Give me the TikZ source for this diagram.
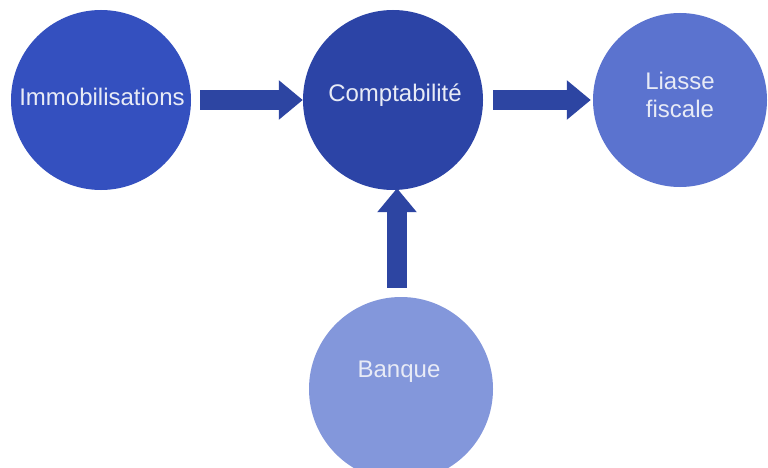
\documentclass[tikz,border=0pt]{standalone}
\usepackage{fontspec}
\setmainfont{Liberation Sans}
\usetikzlibrary{arrows.meta}
\definecolor{cImmo}{HTML}{3450BF}
\definecolor{cCompta}{HTML}{2C44A6}
\definecolor{cLiasse}{HTML}{5B73CF}
\definecolor{cBanque}{HTML}{8397DB}
\definecolor{cArrow}{HTML}{2D45A2}
\definecolor{cText}{HTML}{E8EBF6}
\tikzset{
  bubble/.style={circle, inner sep=0pt, draw=none},
  lbl/.style={text=cText, font=\fontsize{24}{28}\selectfont, inner sep=0pt, align=center},
  blockarrow/.style={draw=cArrow, line width=20pt, -{Triangle[length=24pt,width=38pt]}}
}
\begin{document}
\begin{tikzpicture}[x=1pt,y=-1pt]
\useasboundingbox (0,0) rectangle (768,468);
\fill[white] (0,0) rectangle (768,468);
\node[bubble, fill=cImmo, minimum size=180pt] (immo) at (101,100) {};
\node[bubble, fill=cCompta, minimum size=180pt] (compta) at (393,100) {};
\node[bubble, fill=cLiasse, minimum size=174pt] (liasse) at (680,100) {};
\node[bubble, fill=cBanque, minimum size=184pt] (banque) at (401,389) {};
\node[lbl] (timmo) at (102,97) {Immobilisations};
\node[lbl] (tcompta) at (395,95) {Comptabilité};
\node[lbl] (tliasse) at (680,95) {Liasse\\fiscale};
\node[lbl] (tbanque) at (399,372) {Banque};
\coordinate (vx) at (397,0);
\draw[blockarrow, shorten <=9pt] (immo.east) -- (compta.west);
\draw[blockarrow, shorten <=10pt, shorten >=2pt] (compta.east) -- (liasse.west);
\draw[blockarrow, shorten <=9pt, shorten >=-2pt] (vx |- banque.north) -- (vx |- compta.south);
\end{tikzpicture}
\end{document}
